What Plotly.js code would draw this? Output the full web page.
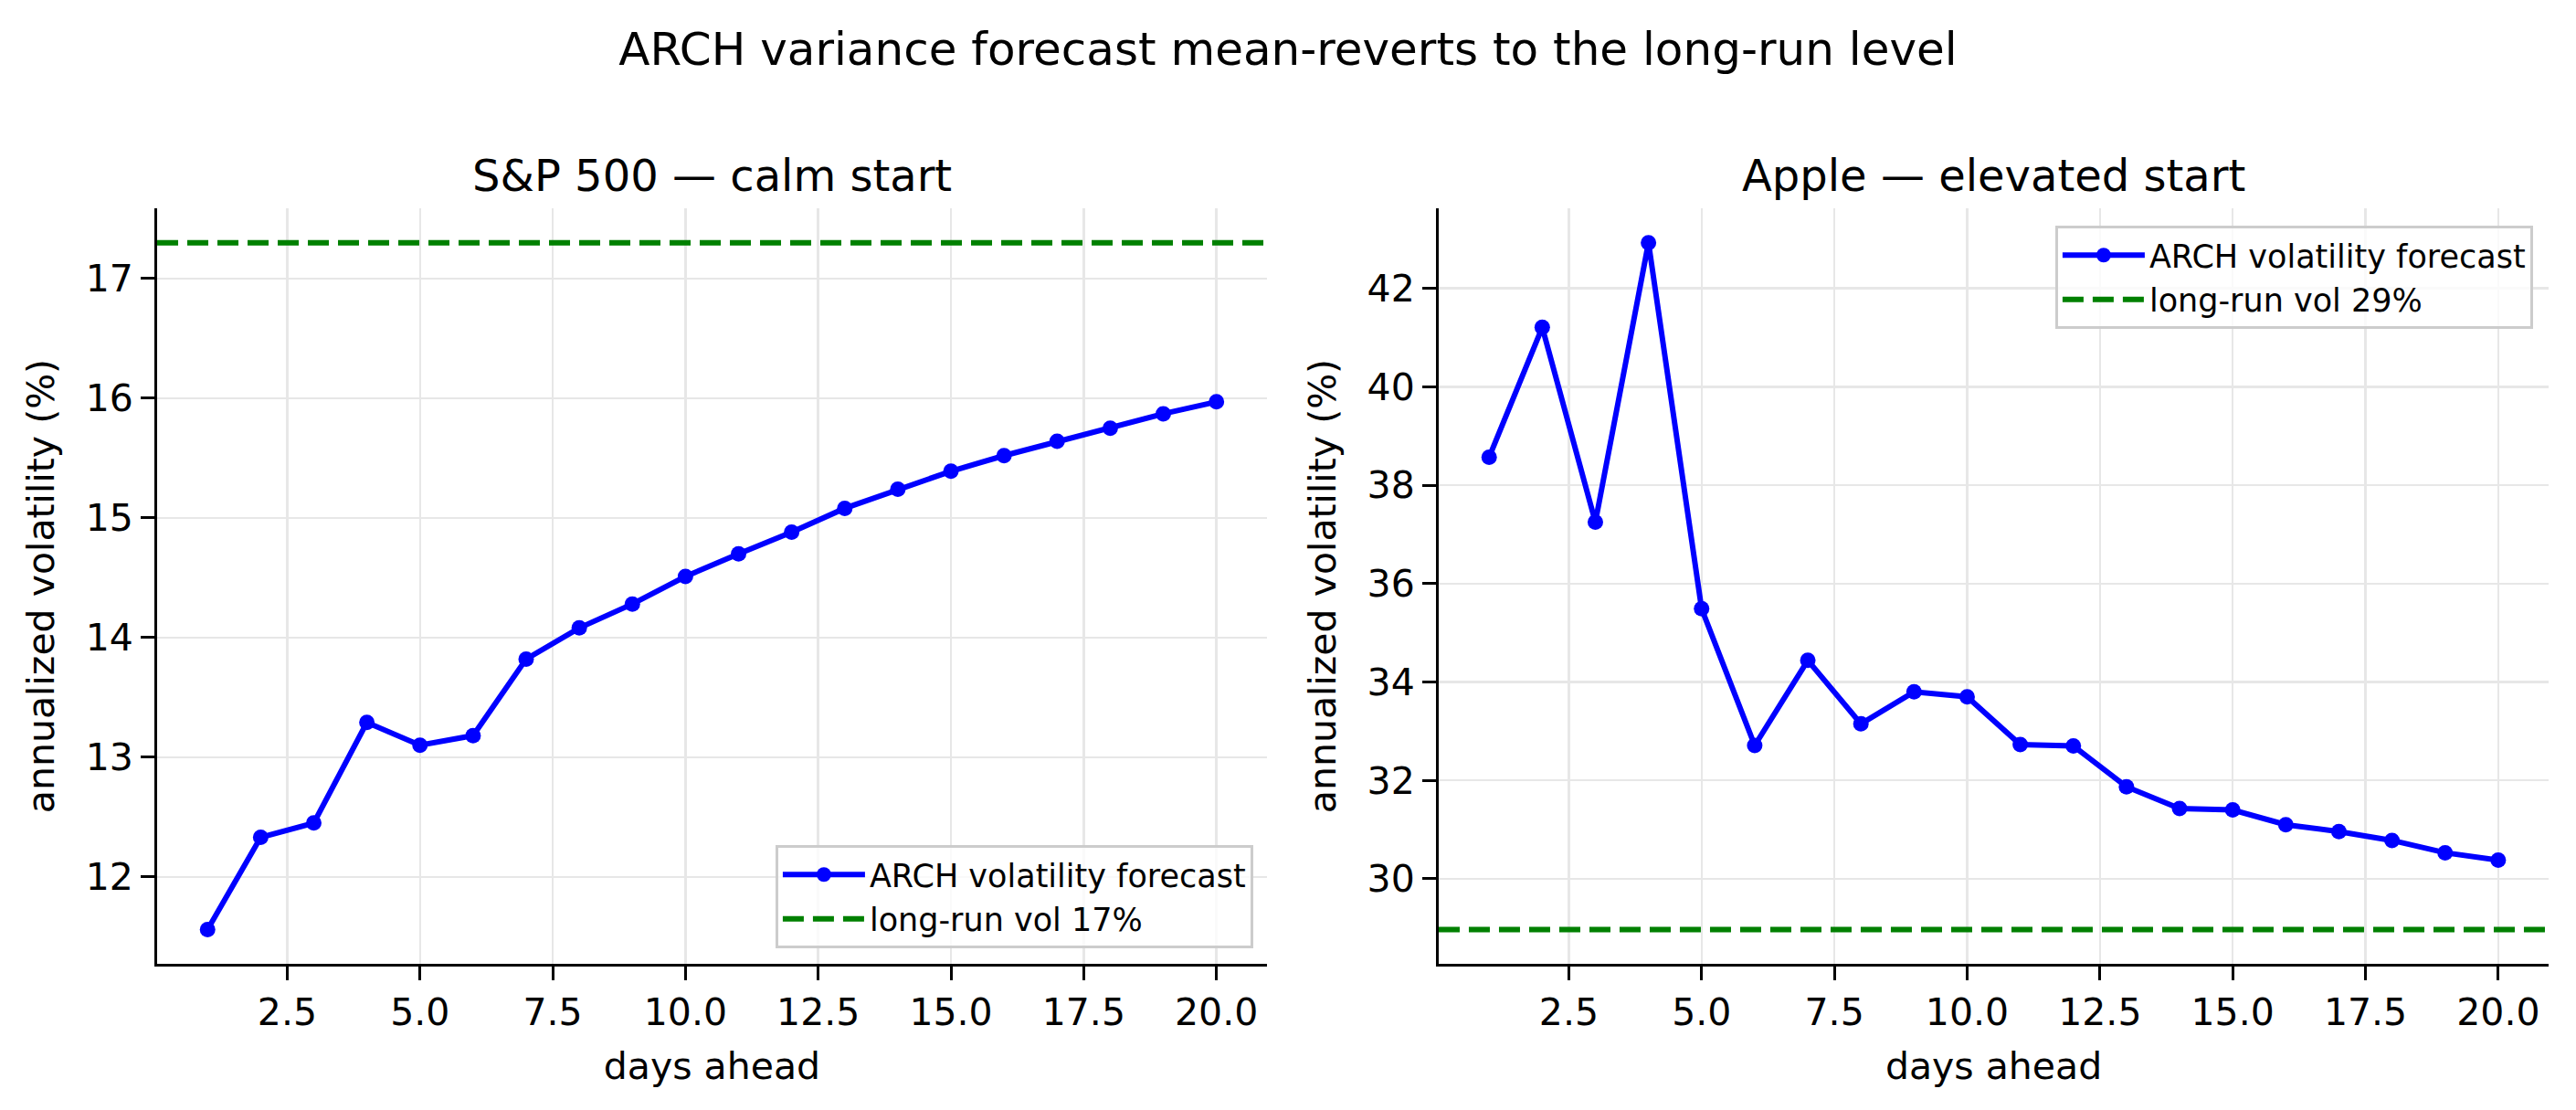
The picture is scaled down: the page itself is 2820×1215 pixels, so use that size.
<!DOCTYPE html>
<html>
<head>
<meta charset="utf-8">
<script src="https://cdn.plot.ly/plotly-3.0.1.min.js"></script>
<style>
  body { margin: 0; background: #fff; }
  #chart { width: 2820px; height: 1215px; }
</style>
</head>
<body>
<div id="chart"></div>
<script>
// forecast horizon (days ahead)
const days = [1, 2, 3, 4, 5, 6, 7, 8, 9, 10, 11, 12, 13, 14, 15, 16, 17, 18, 19, 20];

// S&P 500 - calm start
const spVol = [11.56, 12.33, 12.45, 13.29, 13.10, 13.18, 13.82, 14.08, 14.28, 14.51,
               14.70, 14.88, 15.08, 15.24, 15.39, 15.52, 15.64, 15.75, 15.87, 15.97];
const spLongRun = 17.30;

// Apple - elevated start
const aaplVol = [38.57, 41.21, 37.25, 42.93, 35.49, 32.71, 34.44, 33.15, 33.80, 33.70,
                 32.73, 32.70, 31.87, 31.43, 31.40, 31.10, 30.96, 30.78, 30.53, 30.38];
const aaplLongRun = 28.97;

const xTicks = [2.5, 5.0, 7.5, 10.0, 12.5, 15.0, 17.5, 20.0];
const spTicks = [12, 13, 14, 15, 16, 17];
const aaplTicks = [30, 32, 34, 36, 38, 40, 42];

const FONT = "DejaVu Sans, Liberation Sans, sans-serif";
const BLUE = "#0000ff";
const GREEN = "#008000";

// matplotlib-like autoscale with 5% padding
function padRange(vals) {
  const lo = Math.min(...vals), hi = Math.max(...vals);
  const m = (hi - lo) * 0.05;
  return [lo - m, hi + m];
}

const forecastStyle = {
  type: "scatter",
  mode: "lines+markers",
  line: { color: BLUE, width: 6 },
  marker: { color: BLUE, size: 17 },
  name: "ARCH volatility forecast",
  hoverinfo: "skip",
};

const traceSp = Object.assign({}, forecastStyle, {
  x: days, y: spVol, xaxis: "x", yaxis: "y", legend: "legend",
});
const traceAapl = Object.assign({}, forecastStyle, {
  x: days, y: aaplVol, xaxis: "x2", yaxis: "y2", legend: "legend2",
});

function longRunLine(level, xref, yref, legend) {
  return {
    type: "line",
    xref: xref + " domain", x0: 0, x1: 1,
    yref: yref, y0: level, y1: level,
    line: { color: GREEN, width: 6, dash: "23px,10px" },
    showlegend: true,
    legend: legend,
    name: "long-run vol " + Math.round(level) + "%",
    layer: "above",
  };
}

function xAxis(domain, anchor) {
  return {
    domain: domain,
    anchor: anchor,
    range: padRange(days),
    tickvals: xTicks,
    tickformat: ".1f",
    ticks: "outside", ticklen: 15, tickwidth: 3, tickcolor: "#000",
    showline: true, linecolor: "#000", linewidth: 3, mirror: false,
    showgrid: true, gridcolor: "#e7e7e7", gridwidth: 2.5,
    zeroline: false,
    tickfont: { family: FONT, size: 41, color: "#000" },
    title: { text: "days ahead", font: { family: FONT, size: 41, color: "#000" }, standoff: 22 },
    automargin: false,
  };
}

function yAxis(domain, anchor, vals, ticks) {
  return {
    domain: domain,
    anchor: anchor,
    range: padRange(vals),
    tickvals: ticks,
    ticks: "outside", ticklen: 15, tickwidth: 3, tickcolor: "#000",
    showline: true, linecolor: "#000", linewidth: 3, mirror: false,
    showgrid: true, gridcolor: "#e7e7e7", gridwidth: 2.5,
    zeroline: false,
    tickfont: { family: FONT, size: 41, color: "#000" },
    title: { text: "annualized volatility (%)", font: { family: FONT, size: 41, color: "#000" }, standoff: 22 },
    automargin: false,
  };
}

const legendStyle = {
  bgcolor: "rgba(255,255,255,0.8)",
  bordercolor: "#cccccc",
  borderwidth: 3,
  font: { family: FONT, size: 35, color: "#000" },
  itemwidth: 90,
  tracegroupgap: 0,
};

const yDomain = [0.1317, 0.8123];

const layout = {
  width: 2820,
  height: 1215,
  autosize: false,
  margin: { t: 0, l: 0, r: 0, b: 0 },
  paper_bgcolor: "#fff",
  plot_bgcolor: "#fff",
  font: { family: FONT, color: "#000" },
  title: {
    text: "ARCH variance forecast mean-reverts to the long-run level",
    font: { family: FONT, size: 50, color: "#000" },
    x: 0.5, xanchor: "center", xref: "paper",
    y: 0.9556, yanchor: "middle", yref: "container",
  },
  xaxis: xAxis([0.0610, 0.4918], "y"),
  yaxis: yAxis(yDomain, "x", spVol.concat([spLongRun]), spTicks),
  xaxis2: xAxis([0.5585, 0.9894], "y2"),
  yaxis2: yAxis(yDomain, "x2", aaplVol.concat([aaplLongRun]), aaplTicks),
  legend: Object.assign({}, legendStyle, {
    x: 0.4865, xanchor: "right", y: 0.1457, yanchor: "bottom",
  }),
  legend2: Object.assign({}, legendStyle, {
    x: 0.9833, xanchor: "right", y: 0.7967, yanchor: "top",
  }),
  shapes: [
    longRunLine(spLongRun, "x", "y", "legend"),
    longRunLine(aaplLongRun, "x2", "y2", "legend2"),
  ],
  annotations: [
    {
      text: "S&P 500 — calm start",
      xref: "paper", yref: "paper", x: 0.2764, y: 0.842,
      xanchor: "center", yanchor: "middle", showarrow: false,
      font: { family: FONT, size: 48, color: "#000" },
    },
    {
      text: "Apple — elevated start",
      xref: "paper", yref: "paper", x: 0.774, y: 0.842,
      xanchor: "center", yanchor: "middle", showarrow: false,
      font: { family: FONT, size: 48, color: "#000" },
    },
  ],
  hovermode: false,
  dragmode: false,
};

const config = { displayModeBar: false, responsive: false, staticPlot: true };

Plotly.newPlot("chart", [traceSp, traceAapl], layout, config);
</script>
</body>
</html>
